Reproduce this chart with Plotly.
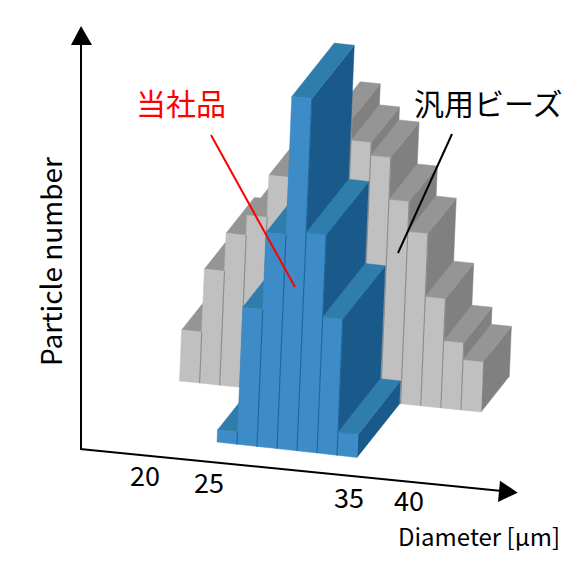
"""draws a pseudo 3D bar chart comparing particle size distributions of two bead products"""

##########==========##########==========##########==========##########==========##########==========
## HEADER

import plotly.graph_objects as go

## chart values (particle number per diameter bin, in picture units)
gray_counts = [51, 114, 152, 172, 214, 240, 262, 278, 257, 244, 202, 172, 109, 67, 50]
blue_counts = [12, 137, 214, 352, 218, 136, 23]
tick_labels = ['20', '25', '35', '40']
x_title = 'Diameter [μm]'
y_title = 'Particle number'
blue_name = '当社品'
gray_name = '汎用ビーズ'

## set parameters
font = 'Noto Sans CJK JP'
lean = 0.042
gray = dict(x0=179.5, y0=381, dx=20.1, dy=2.07, deep=(28.3, -35.7),
            front='#c0c0c0', top='#959595', side='#808080', edge='#8c8c8c')
blue = dict(x0=217, y0=442, dx=20, dy=2.2, deep=(42.5, -53.5),
            front='#3d8bc7', top='#2e7dab', side='#1a5a8a', edge='#22669a')

##########==========##########==========##########==========##########==========##########==========
## COMPONENT FUNCTIONS


def face(points:list, color:str) -> go.Scatter:
    """Closed filled polygon"""
    return go.Scatter(x=[p[0] for p in points] + [points[0][0]],
                      y=[p[1] for p in points] + [points[0][1]],
                      mode='lines', fill='toself', fillcolor=color,
                      line=dict(color=color, width=0.5), hoverinfo='skip')


def make_bars(counts:list, style:dict) -> list:
    """Projects a series of counts into front, top and side faces, painted left to right"""
    traces, edges = list(), list()
    deep_x, deep_y = style['deep']
    for i, count in enumerate(counts):
        x_left, x_right = style['x0'] + i*style['dx'], style['x0'] + (i+1)*style['dx']
        y_left, y_right = style['y0'] + i*style['dy'], style['y0'] + (i+1)*style['dy']
        bottom_left, bottom_right = (x_left, y_left), (x_right, y_right)
        top_left = (x_left + lean*count, y_left - count)
        top_right = (x_right + lean*count, y_right - count)
        back_left = (top_left[0] + deep_x, top_left[1] + deep_y)
        back_right = (top_right[0] + deep_x, top_right[1] + deep_y)
        back_bottom = (bottom_right[0] + deep_x, bottom_right[1] + deep_y)

        traces.append(face([bottom_right, top_right, back_right, back_bottom], style['side']))
        traces.append(face([top_left, top_right, back_right, back_left], style['top']))
        traces.append(face([bottom_left, top_left, top_right, bottom_right], style['front']))
        edges.append(go.Scatter(x=[bottom_right[0], top_right[0]], y=[bottom_right[1], top_right[1]],
                                mode='lines', line=dict(color=style['edge'], width=1.1),
                                hoverinfo='skip'))
    return traces + edges[:-1]


def make_shapes() -> list:
    """Axis lines, arrow heads and the two leader lines"""
    shapes = [
        dict(type='line', x0=81, y0=449, x1=81, y1=42, line=dict(color='black', width=2)),
        dict(type='line', x0=80, y0=449, x1=502, y1=491, line=dict(color='black', width=2)),
        dict(type='path', path='M 81 26 L 71 45 L 92 45 Z', fillcolor='black', line=dict(width=0)),
        dict(type='path', path='M 517.7 492.7 L 500 480.7 L 498 502 Z', fillcolor='black',
             line=dict(width=0)),
        dict(type='line', x0=211, y0=135, x1=295, y1=287, line=dict(color='#ff0000', width=2)),
        dict(type='line', x0=452, y0=134, x1=398, y1=253, line=dict(color='black', width=2)),
    ]
    return [dict(s, xref='x', yref='y') for s in shapes]


def label(x, y, text, size, color='black', angle=0) -> dict:
    return dict(x=x, y=y, text=text, showarrow=False, textangle=angle, xanchor='center',
                yanchor='middle', font=dict(family=font, size=size, color=color))


def make_labels() -> list:
    """All text of the chart"""
    tick_xy = [(145, 474.5), (209, 481.5), (349, 496.5), (409, 499.5)]
    labels = [label(x, y, t, 27) for (x, y), t in zip(tick_xy, tick_labels)]
    labels.append(label(479, 535, x_title, 24))
    labels.append(label(50, 262, y_title, 28, angle=-90))
    labels.append(label(181, 102, blue_name, 30, color='#ff0000'))
    labels.append(label(488, 102, gray_name, 30))
    return labels


##########==========##########==========##########==========##########==========##########==========
## MAIN FUNCTION


def draw_chart() -> None:
    fig = go.Figure(make_bars(gray_counts, gray) + make_bars(blue_counts, blue))
    fig = fig.update_layout(
        width=586, height=576, showlegend=False, autosize=False,
        margin=dict(r=0, l=0, t=0, b=0), dragmode=False,
        plot_bgcolor='white', paper_bgcolor='white',
        xaxis=dict(visible=False, range=[0, 586], fixedrange=True),
        yaxis=dict(visible=False, range=[576, 0], fixedrange=True),
        shapes=make_shapes(), annotations=make_labels(),
    )
    fig.write_html('out.html', config=dict(displayModeBar=False),
                   post_script="document.body.style.margin='0';")


if __name__ == '__main__':
    draw_chart()

##########==========##########==========##########==========##########==========##########==========
